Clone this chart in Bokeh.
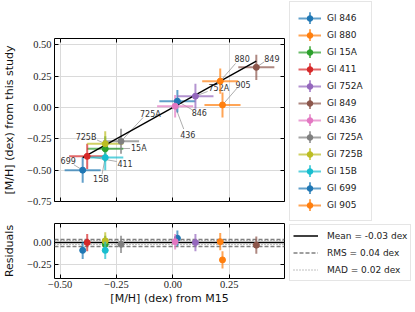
from bokeh.plotting import figure
from bokeh.layouts import column, row
from bokeh.models import Range1d, FixedTicker, LinearAxis, Legend, LegendItem
from bokeh.embed import file_html
from bokeh.resources import INLINE
from bokeh.core.properties import value

# ---------------- data ----------------
names = ["Gl 846", "Gl 880", "Gl 15A", "Gl 411", "Gl 752A", "Gl 849",
         "Gl 436", "Gl 725A", "Gl 725B", "Gl 15B", "Gl 699", "Gl 905"]
short = ["846", "880", "15A", "411", "752A", "849",
         "436", "725A", "725B", "15B", "699", "905"]
mh_m15 = [0.02, 0.21, -0.30, -0.38, 0.10, 0.37, 0.01, -0.23, -0.30, -0.30, -0.40, 0.22]
mh_study = [0.05, 0.21, -0.33, -0.39, 0.09, 0.32, 0.01, -0.27, -0.29, -0.40, -0.50, 0.02]
err_m15 = [0.08, 0.08, 0.08, 0.08, 0.08, 0.08, 0.08, 0.08, 0.08, 0.08, 0.08, 0.08]
err_study = [0.09, 0.10, 0.10, 0.10, 0.10, 0.10, 0.09, 0.10, 0.10, 0.10, 0.10, 0.10]
residuals = [0.05, 0.01, -0.02, 0.00, 0.00, -0.03, 0.01, -0.02, 0.02, -0.09, -0.09, -0.20]
colors = ["#1f77b4", "#ff7f0e", "#2ca02c", "#d62728", "#9467bd", "#8c564b",
          "#e377c2", "#7f7f7f", "#bcbd22", "#17becf", "#1f77b4", "#ff7f0e"]

# annotation label positions and leader-line starts (data units)
label_x = [0.117, 0.307, -0.151, -0.212, 0.204, 0.439, 0.066, -0.100, -0.385, -0.319, -0.464, 0.311]
label_y = [-0.040, 0.394, -0.327, -0.444, 0.155, 0.394, -0.218, -0.053, -0.240, -0.575, -0.420, 0.187]
lead_x = [0.088, 0.278, -0.190, -0.249, 0.154, 0.406, 0.048, -0.132, -0.336, -0.314, -0.439, 0.285]
lead_y = [-0.021, 0.351, -0.327, -0.431, 0.128, 0.365, -0.172, -0.080, -0.260, -0.532, -0.457, 0.155]

mean_val = [0.0]
rms_band = [0.04, -0.04]
mad_band = [0.02, -0.02]
stat_labels = ["Mean = -0.03 dex", "RMS = 0.04 dex", "MAD = 0.02 dex"]

x_ticks = [-0.50, -0.25, 0.00, 0.25]
x_tick_labels = ["\u22120.50", "\u22120.25", "0.00", "0.25"]
y_ticks = [-0.75, -0.50, -0.25, 0.00, 0.25, 0.50]
y_tick_labels = ["\u22120.75", "\u22120.50", "\u22120.25", "0.00", "0.25", "0.50"]
r_ticks = [-0.25, 0.00]
r_tick_labels = ["\u22120.25", "0.00"]

x_label = "[M/H] (dex) from M15"
y_label = "[M/H] (dex) from this study"
r_label = "Residuals"

TICK_FONT = "Liberation Serif"
TICK_SIZE = "10.5px"
LAB_FONT = "DejaVu Sans"
GRID = "#dadada"

xr = Range1d(-0.525, 0.495)


def style_axis(ax, ticks, labels, show_labels, label=None):
    ax.ticker = FixedTicker(ticks=ticks)
    ax.major_tick_in = 4
    ax.major_tick_out = 0
    ax.minor_tick_in = 0
    ax.minor_tick_out = 0
    ax.axis_line_color = None
    ax.major_tick_line_color = "black"
    ax.major_tick_line_width = 1
    if show_labels:
        ax.major_label_overrides = {t: l for t, l in zip(ticks, labels)}
        ax.major_label_text_font = TICK_FONT
        ax.major_label_text_font_size = TICK_SIZE
        ax.major_label_text_color = "#222222"
        ax.major_label_standoff = 3
    else:
        ax.major_label_overrides = {t: "" for t in ticks}
        ax.major_label_text_font_size = "1px"
        ax.major_label_standoff = 0
    if label:
        ax.axis_label = label
        ax.axis_label_text_font = LAB_FONT
        ax.axis_label_text_font_size = "11px"
        ax.axis_label_text_font_style = "normal"
        ax.axis_label_text_color = "#111111"
        ax.axis_label_standoff = 8


# ---------------- main panel ----------------
p1 = figure(width=285, height=220, x_range=xr, y_range=Range1d(-0.75, 0.55),
            output_backend="svg", toolbar_location=None,
            min_border_left=52, min_border_right=1, min_border_top=38, min_border_bottom=19)
p1.outline_line_color = "black"
p1.outline_line_width = 1

style_axis(p1.xaxis[0], x_ticks, x_tick_labels, False)
style_axis(p1.yaxis[0], y_ticks, y_tick_labels, True, y_label)
ax_top = LinearAxis()
style_axis(ax_top, x_ticks, x_tick_labels, False)
p1.add_layout(ax_top, "above")
ax_right = LinearAxis()
style_axis(ax_right, y_ticks, y_tick_labels, False)
p1.add_layout(ax_right, "right")
p1.xgrid.ticker = FixedTicker(ticks=x_ticks)
p1.ygrid.ticker = FixedTicker(ticks=y_ticks)
for g in (p1.xgrid[0], p1.ygrid[0]):
    g.grid_line_color = GRID
    g.grid_line_width = 1

# leader lines and labels
p1.segment(x0=lead_x, y0=lead_y, x1=mh_m15, y1=mh_study, line_color="#8a8a8a", line_width=0.7)
p1.text(x=label_x, y=label_y, text=short, text_font=value("DejaVu Sans"),
        text_font_size="8px", text_align="center", text_baseline="middle", text_color="#333333")

for i in range(len(names)):
    p1.segment(x0=[mh_m15[i] - err_m15[i]], y0=[mh_study[i]],
               x1=[mh_m15[i] + err_m15[i]], y1=[mh_study[i]],
               line_color=colors[i], line_width=2, line_alpha=0.7)
    p1.segment(x0=[mh_m15[i]], y0=[mh_study[i] - err_study[i]],
               x1=[mh_m15[i]], y1=[mh_study[i] + err_study[i]],
               line_color=colors[i], line_width=2, line_alpha=0.7)

# 1:1 line
xmin, xmax = min(mh_m15), max(mh_m15)
p1.line(x=[xmin, xmax], y=[xmin, xmax], line_color="black", line_width=1.3)

for i in range(len(names)):
    p1.scatter(x=[mh_m15[i]], y=[mh_study[i]], size=6, marker="circle",
               fill_color=colors[i], line_color=colors[i])

# ---------------- residual panel ----------------
p2 = figure(width=285, height=92, x_range=xr, y_range=Range1d(-0.415, 0.22),
            output_backend="svg", toolbar_location=None,
            min_border_left=52, min_border_right=1, min_border_top=3, min_border_bottom=34)
p2.outline_line_color = "black"
p2.outline_line_width = 1
style_axis(p2.xaxis[0], x_ticks, x_tick_labels, True, x_label)
p2.xaxis[0].major_label_standoff = 2
p2.xaxis[0].axis_label_standoff = 1
style_axis(p2.yaxis[0], r_ticks, r_tick_labels, True, r_label)
ax_top2 = LinearAxis()
style_axis(ax_top2, x_ticks, x_tick_labels, False)
p2.add_layout(ax_top2, "above")
ax_right2 = LinearAxis()
style_axis(ax_right2, r_ticks, r_tick_labels, False)
p2.add_layout(ax_right2, "right")
p2.xgrid.ticker = FixedTicker(ticks=x_ticks)
p2.ygrid.ticker = FixedTicker(ticks=r_ticks)
for g in (p2.xgrid[0], p2.ygrid[0]):
    g.grid_line_color = GRID
    g.grid_line_width = 1

p2.hspan(y=mean_val, line_color="black", line_width=1.5)
p2.hspan(y=rms_band, line_color="gray", line_width=1.5, line_dash="4 2")
p2.hspan(y=mad_band, line_color="gray", line_width=1, line_dash="1 2")

for i in range(len(names)):
    p2.segment(x0=[mh_m15[i]], y0=[residuals[i] - err_study[i]],
               x1=[mh_m15[i]], y1=[residuals[i] + err_study[i]],
               line_color=colors[i], line_width=2, line_alpha=0.7)
    p2.scatter(x=[mh_m15[i]], y=[residuals[i]], size=6, marker="circle",
               fill_color=colors[i], line_color=colors[i])

# ---------------- legends (one canvas to the right of both panels) ----------------
# proxies live outside this canvas' visible range; they only feed the legend glyphs
L = figure(width=130, height=312, x_range=Range1d(10, 11), y_range=Range1d(10, 11),
           x_axis_type=None, y_axis_type=None, output_backend="svg", toolbar_location=None,
           min_border_left=0, min_border_right=0, min_border_top=0, min_border_bottom=0)
L.outline_line_color = None

items = []
for i in range(len(names)):
    xe = L.segment(x0=[mh_m15[i] - err_m15[i]], y0=[mh_study[i]],
                   x1=[mh_m15[i] + err_m15[i]], y1=[mh_study[i]],
                   line_color=colors[i], line_width=2, line_alpha=0.7)
    ye = L.ellipse(x=[mh_m15[i]], y=[mh_study[i]], width=0.01, height=12,
                   width_units="screen", height_units="screen",
                   fill_alpha=0, line_color=colors[i], line_width=2, line_alpha=0.7)
    mk = L.scatter(x=[mh_m15[i]], y=[mh_study[i]], size=6, marker="circle",
                   fill_color=colors[i], line_color=colors[i])
    items.append(LegendItem(label=names[i], renderers=[xe, ye, mk]))
leg1 = Legend(items=items, location=(4, 91), margin=0, padding=8, spacing=2,
              label_height=15, glyph_height=14, glyph_width=23, label_standoff=6,
              label_text_font="DejaVu Sans", label_text_font_size="9px",
              label_text_color="#222222",
              border_line_color="#cccccc", border_line_width=1,
              background_fill_color="white", background_fill_alpha=1.0,
              inactive_fill_alpha=0.0)
L.add_layout(leg1)

r_mean = L.hspan(y=mean_val, line_color="black", line_width=1.5)
r_rms = L.hspan(y=rms_band, line_color="gray", line_width=1.5, line_dash="4 2")
r_mad = L.hspan(y=mad_band, line_color="gray", line_width=1, line_dash="1 2")
leg2 = Legend(items=[LegendItem(label=stat_labels[0], renderers=[r_mean]),
                     LegendItem(label=stat_labels[1], renderers=[r_rms]),
                     LegendItem(label=stat_labels[2], renderers=[r_mad])],
              location=(4, 31), margin=0, padding=3, spacing=2,
              label_height=15, glyph_height=15, glyph_width=25, label_standoff=9,
              label_text_font="DejaVu Sans", label_text_font_size="9px",
              label_text_color="#222222",
              border_line_color="#cccccc", border_line_width=1,
              background_fill_color="white", background_fill_alpha=1.0,
              inactive_fill_alpha=0.0)
L.add_layout(leg2)

layout = row(column(p1, p2, spacing=0), L, spacing=0)
open("out.html", "w").write(file_html(layout, INLINE))
